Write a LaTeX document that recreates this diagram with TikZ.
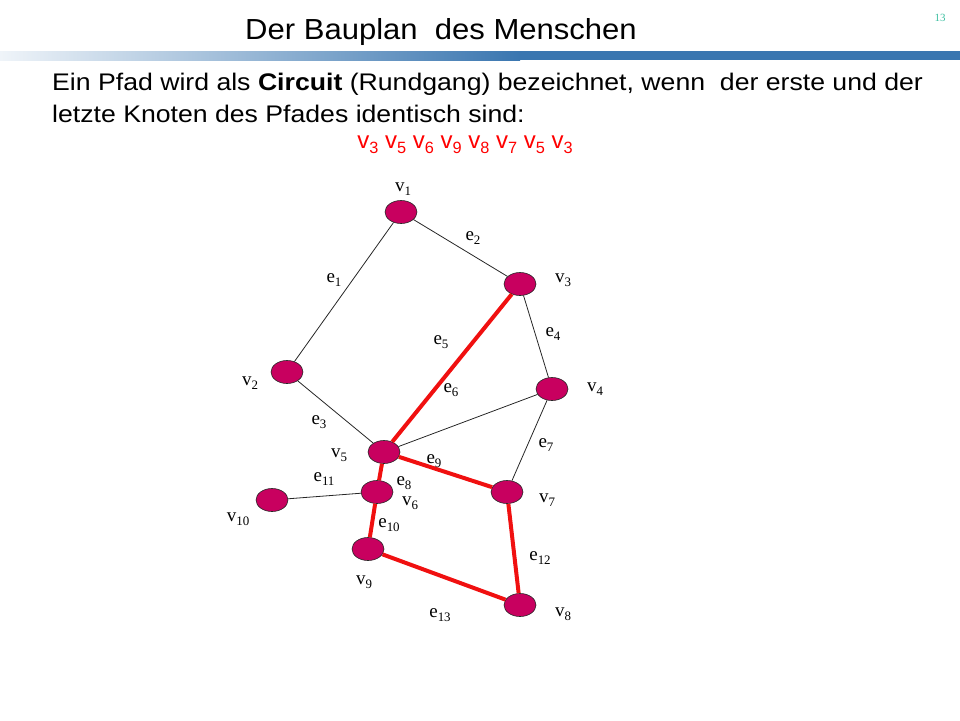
\documentclass[tikz,border=0pt]{standalone}
\usepackage{fontspec}
\setmainfont{Liberation Serif}
\setsansfont{Liberation Sans}
\newfontfamily\titlefont[FakeStretch=1.07]{Liberation Sans}
\newfontfamily\bodyfont[FakeStretch=1.11]{Liberation Sans}
\usetikzlibrary{shapes.geometric}
\definecolor{knot}{RGB}{200,0,95}
\definecolor{barblue}{RGB}{58,118,176}
\definecolor{pathred}{RGB}{240,16,16}
\definecolor{pagenr}{RGB}{60,190,160}
\newcommand{\lowsub}[1]{\raisebox{-0.22em}{\scalebox{0.68}{#1}}}
\newcommand{\vsub}[1]{v\lowsub{#1}}
\newcommand{\esub}[1]{e\lowsub{#1}}

\begin{document}
\begin{tikzpicture}[x=1pt,y=-1pt,
  vertex/.style={ellipse,draw=black!85,fill=knot,minimum width=32pt,minimum height=23pt,inner sep=0pt,line width=0.6pt},
  lbl/.style={font=\fontsize{19}{22}\selectfont,inner sep=0pt},
  plain/.style={draw=black!85,line width=0.8pt},
  circ/.style={draw=pathred,line width=4pt}]
  \useasboundingbox (0,0) rectangle (960,720);

  % Kopf
  \node[anchor=base,font=\titlefont\fontsize{29}{34}\selectfont] (title) at (441,39) {Der Bauplan\ \ des Menschen};
  \node[font=\fontsize{11}{12}\selectfont,text=pagenr] (pagenr) at (940,18) {13};
  \shade[left color=barblue!8,right color=barblue] (0,51) rectangle (520,60);
  \fill[barblue] (520,51) rectangle (960,60);

  % Text
  \node[anchor=base west,inner sep=0pt,font=\bodyfont\fontsize{24}{30}\selectfont] (line1) at (52,90)
    {Ein Pfad wird als \textbf{Circuit} (Rundgang) bezeichnet, wenn\ \ der erste und der};
  \node[anchor=base west,inner sep=0pt,font=\bodyfont\fontsize{24}{30}\selectfont] (line2) at (52,122)
    {letzte Knoten des Pfades identisch sind:};
  \node[anchor=base,inner sep=0pt,text=red,font=\sffamily\fontsize{24}{30}\selectfont] (circuit) at (465,148)
    {\vsub{3} \vsub{5} \vsub{6} \vsub{9} \vsub{8} \vsub{7} \vsub{5} \vsub{3}};

  % Knoten
  \node[vertex] (v1) at (401,212) {};
  \node[vertex] (v2) at (287,372) {};
  \node[vertex] (v3) at (520,284) {};
  \node[vertex] (v4) at (552,389) {};
  \node[vertex] (v5) at (384,452) {};
  \node[vertex] (v6) at (377,492) {};
  \node[vertex] (v7) at (507,492) {};
  \node[vertex] (v8) at (520,605) {};
  \node[vertex] (v9) at (368,549) {};
  \node[vertex] (v10) at (272,500) {};

  % Kanten
  \path[plain]
  (v1) edge (v2)
       edge (v3)
  (v2) edge (v5)
  (v3) edge (v4)
  (v4) edge (v5)
       edge (v7)
  (v6) edge (v10)
  ;
  \path[circ]
  (v3) edge (v5)
  (v5) edge (v6)
       edge (v7)
  (v6) edge (v9)
  (v7) edge (v8)
  (v9) edge (v8)
  ;

  % Beschriftung
  \node[lbl] (l1) at (403,189) {\vsub{1}};
  \node[lbl] (l2) at (250,383) {\vsub{2}};
  \node[lbl] (l3) at (563,280) {\vsub{3}};
  \node[lbl] (l4) at (595,389) {\vsub{4}};
  \node[lbl] (l5) at (339,455) {\vsub{5}};
  \node[lbl] (l6) at (410,503) {\vsub{6}};
  \node[lbl] (l7) at (547,500) {\vsub{7}};
  \node[lbl] (l8) at (563,614) {\vsub{8}};
  \node[lbl] (l9) at (364,582) {\vsub{9}};
  \node[lbl] (l10) at (238,519) {\vsub{10}};
  \node[lbl] (k1) at (334,280) {\esub{1}};
  \node[lbl] (k2) at (473,238) {\esub{2}};
  \node[lbl] (k3) at (319,422) {\esub{3}};
  \node[lbl] (k4) at (553,334) {\esub{4}};
  \node[lbl] (k5) at (441,342) {\esub{5}};
  \node[lbl] (k6) at (451,390) {\esub{6}};
  \node[lbl] (k7) at (546,445) {\esub{7}};
  \node[lbl] (k8) at (404,483) {\esub{8}};
  \node[lbl] (k9) at (434,461) {\esub{9}};
  \node[lbl] (k10) at (389,525) {\esub{10}};
  \node[lbl] (k11) at (324,479) {\esub{11}};
  \node[lbl] (k12) at (540,558) {\esub{12}};
  \node[lbl] (k13) at (440,615) {\esub{13}};
\end{tikzpicture}
\end{document}
